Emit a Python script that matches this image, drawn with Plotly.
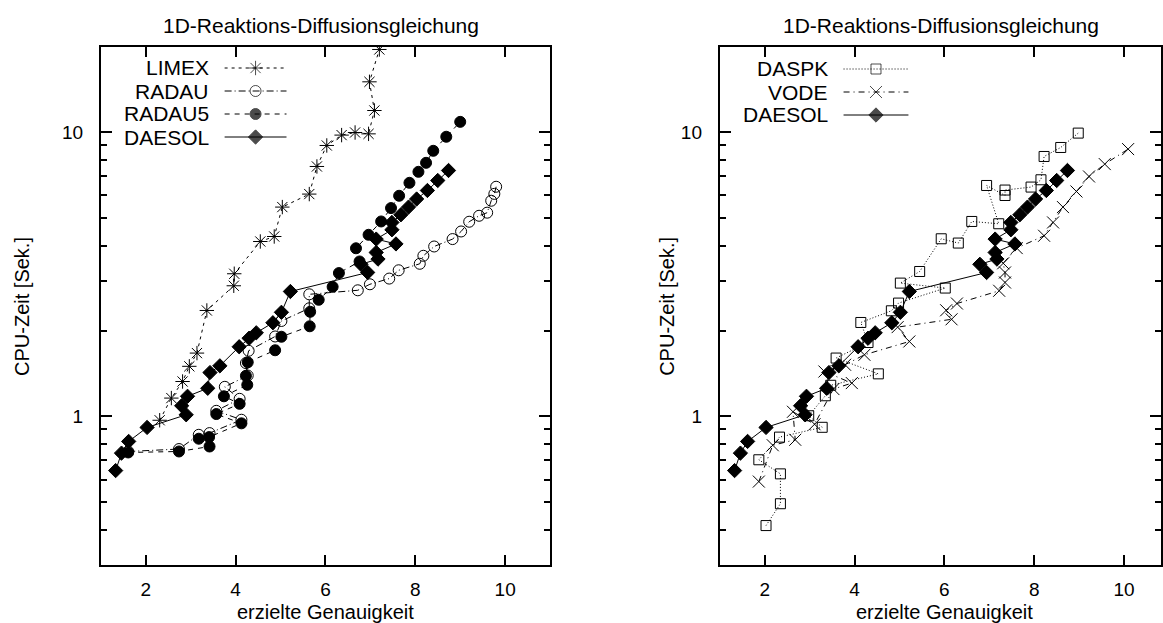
import plotly.graph_objects as go

W, H = 1163, 623

# ---------------- data (left panel) ----------------
limex_x = [2.31, 2.57, 2.82, 2.97, 3.14, 3.36, 3.96, 3.97, 4.55, 4.86, 5.04, 5.64, 5.81, 6.03, 6.36, 6.66, 6.96, 7.09, 6.98, 7.20]
limex_y = [0.970, 1.161, 1.328, 1.502, 1.672, 2.362, 2.886, 3.181, 4.132, 4.303, 5.462, 6.069, 7.591, 9.000, 9.79, 10.0, 9.89, 11.95, 15.08, 19.6]

radau_x = [1.61, 2.74, 3.18, 3.42, 4.13, 3.57, 4.09, 3.76, 4.27, 4.23, 4.29, 4.88, 5.02, 5.64, 5.64, 6.72, 6.99, 7.42, 7.63, 8.10, 8.18, 8.42, 8.83, 9.02, 9.20, 9.42, 9.60, 9.69, 9.76, 9.80]
radau_y = [0.753, 0.768, 0.862, 0.874, 0.974, 1.047, 1.154, 1.272, 1.394, 1.542, 1.704, 1.913, 2.169, 2.404, 2.693, 2.782, 2.921, 3.059, 3.272, 3.449, 3.680, 3.968, 4.214, 4.482, 4.85, 5.09, 5.22, 5.75, 6.08, 6.44]

radau5_x = [1.61, 2.74, 3.42, 3.18, 3.41, 4.13, 3.57, 4.09, 3.74, 4.26, 4.23, 4.27, 4.88, 5.02, 5.65, 5.66, 5.85, 6.16, 6.30, 6.76, 6.68, 6.96, 7.24, 7.46, 7.64, 7.87, 8.07, 8.24, 8.40, 8.69, 9.00]
radau5_y = [0.747, 0.753, 0.784, 0.835, 0.846, 0.946, 1.020, 1.108, 1.178, 1.293, 1.391, 1.552, 1.711, 1.909, 2.078, 2.337, 2.576, 2.862, 3.199, 3.514, 3.911, 4.363, 4.861, 5.418, 5.986, 6.65, 7.27, 7.82, 8.62, 9.66, 10.9]

daesol_x = [1.33, 1.46, 1.62, 2.03, 2.90, 2.80, 2.93, 3.38, 3.43, 3.65, 4.08, 4.30, 4.46, 4.83, 5.02, 5.22, 6.94, 6.79, 7.17, 7.13, 7.57, 7.13, 7.48, 7.48, 7.68, 7.85, 8.03, 8.27, 8.50, 8.74]
daesol_y = [0.645, 0.743, 0.817, 0.915, 1.014, 1.091, 1.178, 1.257, 1.428, 1.508, 1.760, 1.886, 1.971, 2.138, 2.327, 2.755, 3.214, 3.435, 3.583, 3.780, 4.051, 4.214, 4.544, 4.822, 5.132, 5.462, 5.831, 6.249, 6.776, 7.349]

# ---------------- data (right panel) ----------------
daspk_x = [2.03, 2.35, 2.35, 1.87, 2.33, 3.28, 2.98, 3.35, 3.47, 4.53, 3.59, 4.30, 4.14, 4.82, 4.98, 6.02, 5.02, 5.45, 5.93, 6.31, 6.61, 7.21, 6.94, 7.35, 7.35, 7.93, 8.15, 8.22, 8.59, 8.98]
daspk_y = [0.413, 0.493, 0.628, 0.704, 0.846, 0.916, 1.006, 1.183, 1.288, 1.413, 1.606, 1.822, 2.143, 2.356, 2.508, 2.833, 2.949, 3.240, 4.224, 4.080, 4.861, 4.771, 6.508, 6.0, 6.27, 6.424, 6.815, 8.232, 8.856, 9.95]

vode_x = [1.87, 2.18, 2.68, 2.63, 3.11, 3.53, 3.94, 3.33, 3.79, 4.22, 5.22, 4.96, 6.16, 6.04, 6.28, 7.22, 7.35, 7.35, 7.31, 7.61, 8.22, 8.42, 8.64, 8.94, 9.22, 9.57, 10.09]
vode_y = [0.590, 0.792, 0.828, 1.039, 0.939, 1.249, 1.311, 1.440, 1.521, 1.649, 1.837, 2.064, 2.199, 2.366, 2.499, 2.771, 2.963, 3.214, 3.463, 3.917, 4.328, 4.822, 5.462, 6.199, 7.000, 7.740, 8.74]

title_text = "1D-Reaktions-Diffusionsgleichung"
xlabel_text = "erzielte Genauigkeit"
ylabel_text = "CPU-Zeit [Sek.]"
x_ticks = [2, 4, 6, 8, 10]
y_ticks = [1, 10]
y_ticklabels = ["1", "10"]
y_minor = [0.4, 0.5, 0.6, 0.7, 0.8, 0.9, 2, 3, 4, 5, 6, 7, 8, 9]

FONT = "Liberation Sans, Arial, sans-serif"

# styles: name -> (dash, symbol, size)
styles = {
    "LIMEX": ("3px,4px", "asterisk-open", 12),
    "RADAU": ("7px,3px,1px,3px", "circle-open", 11),
    "RADAU5": ("5px,5px", "circle", 11),
    "DAESOL": ("solid", "diamond", 11),
    "DASPK": ("1px,2px", "square-open", 10),
    "VODE": ("6px,4px,1px,4px", "x-thin-open", 12),
}

left_series = [("LIMEX", limex_x, limex_y), ("RADAU", radau_x, radau_y),
               ("RADAU5", radau5_x, radau5_y), ("DAESOL", daesol_x, daesol_y)]
right_series = [("DASPK", daspk_x, daspk_y), ("VODE", vode_x, vode_y),
                ("DAESOL", daesol_x, daesol_y)]

fig = go.Figure()


def add_series(name, xs, ys, xa, ya, sizes=None):
    dash, sym, size = styles[name]
    fig.add_trace(go.Scatter(
        x=xs, y=ys, mode="lines+markers", name=name, xaxis=xa, yaxis=ya,
        showlegend=False, cliponaxis=True,
        line=dict(color="black", width=1, dash=dash),
        marker=dict(symbol=sym, size=sizes if sizes is not None else size, color="black",
                    line=dict(color="black", width=1)),
    ))


for name, xs, ys in left_series:
    add_series(name, xs, ys, "x", "y")
for name, xs, ys in right_series:
    add_series(name, xs, ys, "x2", "y2")

# ---------------- layout geometry (pixels) ----------------
L_left, L_right = 101, 551
R_left = 721
px_per_unit = 45.0
plot_top, plot_bot = 47, 565


def fx(px):
    return px / W


def fy(py):
    return 1 - py / H


annotations = []


# custom gnuplot-style legends (text right-aligned, sample to the right)
def build_legend(series, text_right, s0, s1, row0, dy):
    for i, (name, _, _) in enumerate(series):
        yy = row0 + i * dy
        annotations.append(dict(text=name, x=fx(text_right), y=fy(yy), xref="paper", yref="paper",
                                xanchor="right", yanchor="middle", showarrow=False,
                                font=dict(family=FONT, size=21, color="black")))
        dash, sym, size = styles[name]
        add_series(name, [s0, (s0 + s1) / 2, s1], [yy, yy, yy], "x3", "y3", sizes=[0, size, 0])


build_legend(left_series, 211, 225, 287, 68, 23)
build_legend(right_series, 831, 845, 910, 69, 23)

# titles and axis labels
for cx, tx in [((L_left + L_right) / 2, 322), (R_left + 5 * px_per_unit, 943)]:
    annotations.append(dict(text=title_text, x=fx(tx), y=fy(25), xref="paper", yref="paper",
                            xanchor="center", yanchor="middle", showarrow=False,
                            font=dict(family=FONT, size=21, color="black")))
    annotations.append(dict(text=xlabel_text, x=fx(cx), y=fy(612), xref="paper", yref="paper",
                            xanchor="center", yanchor="middle", showarrow=False,
                            font=dict(family=FONT, size=20, color="black")))
for cx in [22, 668]:
    annotations.append(dict(text=ylabel_text, x=fx(cx), y=fy((plot_top + plot_bot) / 2), xref="paper",
                            yref="paper", xanchor="center", yanchor="middle", showarrow=False,
                            textangle=-90, font=dict(family=FONT, size=20, color="black")))

xcommon = dict(tickvals=x_ticks, ticks="inside", ticklen=10, tickwidth=1.5, tickcolor="black",
               showline=True, linecolor="black", linewidth=2, mirror="ticks", showgrid=False,
               zeroline=False, tickfont=dict(family=FONT, size=19, color="black"),
               ticklabelstandoff=6)
ycommon = dict(type="log", range=[-0.5229, 1.3010], tickvals=y_ticks, ticktext=y_ticklabels,
               ticks="inside", ticklen=11, tickwidth=1.5, tickcolor="black",
               minor=dict(tickvals=y_minor, ticks="inside", ticklen=6, tickwidth=1.5, tickcolor="black"),
               showline=True, linecolor="black", linewidth=2, mirror="ticks", showgrid=False,
               zeroline=False, tickfont=dict(family=FONT, size=19, color="black"),
               ticklabelstandoff=12)

ydom = [fy(plot_bot), fy(plot_top)]
r_xmax = 1 + (W - R_left) / px_per_unit

fig.update_layout(
    width=W, height=H, margin=dict(l=0, r=0, t=0, b=0),
    paper_bgcolor="white", plot_bgcolor="rgba(0,0,0,0)",
    showlegend=False,
    xaxis=dict(domain=[fx(L_left), fx(L_right)], range=[1, 11], anchor="y", **xcommon),
    yaxis=dict(domain=ydom, anchor="x", **ycommon),
    xaxis2=dict(domain=[fx(R_left), 1.0], range=[1, r_xmax], anchor="y2", **xcommon),
    yaxis2=dict(domain=ydom, anchor="x2", **ycommon),
    xaxis3=dict(domain=[0, 1], range=[0, W], visible=False, anchor="y3"),
    yaxis3=dict(domain=[0, 1], range=[H, 0], visible=False, anchor="x3"),
    annotations=annotations,
    font=dict(family=FONT, color="black"),
)

fig.write_html("out.html")
